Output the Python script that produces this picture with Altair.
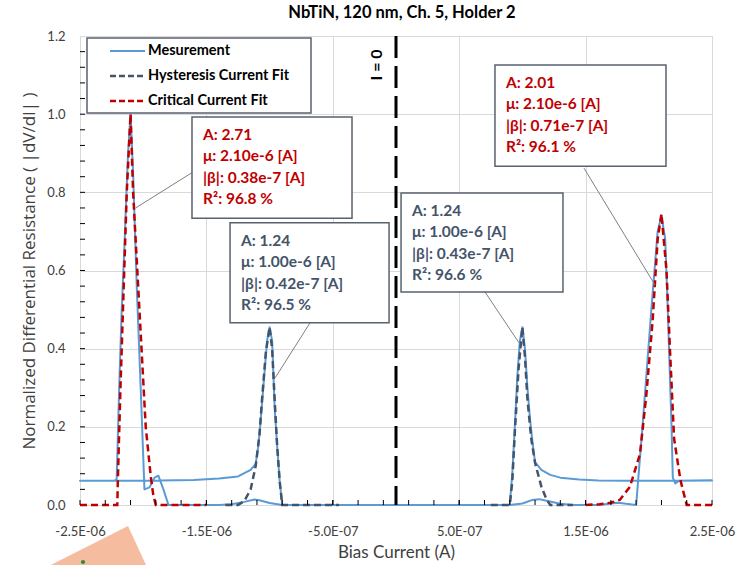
import altair as alt
import pandas as pd

# ---------------- data (x in µA, y normalized) ----------------
meas_x = [0.0, 0.9, 1.0, 1.08, 1.13, 1.2, 1.3, 1.4, 1.6, 1.7, 1.76, 1.82, 1.9,
          1.95, 2.02, 2.07, 2.1, 2.13, 2.15, 2.18, 2.19, 2.21, 2.24, 2.5,
          2.2, 1.8, 1.6, 1.45, 1.3, 1.22, 1.15, 1.1, 1.08, 1.06, 1.04, 1.02, 1.0,
          0.98, 0.96, 0.94, 0.92, 0.9, 0.5, 0.0, -0.5, -0.9, -1.0, -1.08, -1.12,
          -1.2, -1.3, -1.4, -1.8, -1.84, -1.88, -1.91, -1.95, -1.99, -2.02, -2.05,
          -2.08, -2.1, -2.12, -2.15, -2.17, -2.19, -2.21, -2.23, -2.5,
          -2.0, -1.6, -1.4, -1.25, -1.15, -1.11, -1.09, -1.075, -1.05, -1.02, -1.0,
          -0.98, -0.96, -0.94, -0.92, -0.9, 0.0]
meas_y = [0.0, 0.0, 0.004, 0.013, 0.015, 0.01, 0.003, 0.0, 0.0, 0.004, 0.006, 0.003, 0.0,
          0.2, 0.5, 0.7, 0.74, 0.68, 0.5, 0.2, 0.07, 0.055, 0.062, 0.063,
          0.062, 0.062, 0.063, 0.065, 0.07, 0.077, 0.09, 0.11, 0.16, 0.22, 0.3, 0.4, 0.455,
          0.42, 0.33, 0.2, 0.08, 0.0, 0.0, 0.0, 0.0, 0.0, 0.005, 0.012, 0.014,
          0.008, 0.002, 0.0, 0.0, 0.04, 0.075, 0.07, 0.045, 0.04, 0.3, 0.55,
          0.85, 1.0, 0.9, 0.65, 0.5, 0.3, 0.065, 0.062, 0.062,
          0.062, 0.064, 0.068, 0.073, 0.09, 0.105, 0.15, 0.2, 0.3, 0.42, 0.455,
          0.42, 0.25, 0.15, 0.06, 0.0, 0.0]

hyst_left_x = [-1.35, -1.25, -1.2, -1.15, -1.11, -1.08, -1.06, -1.03, -1.0, -0.98, -0.96, -0.94, -0.92, -0.9, -0.45]
hyst_left_y = [0.0, 0.0, 0.01, 0.04, 0.1, 0.18, 0.27, 0.39, 0.455, 0.4, 0.27, 0.15, 0.06, 0.0, 0.0]
hyst_right_x = [0.75, 0.9, 0.92, 0.94, 0.97, 1.0, 1.02, 1.04, 1.07, 1.1, 1.15, 1.19, 1.22, 1.4]
hyst_right_y = [0.0, 0.0, 0.06, 0.185, 0.35, 0.455, 0.38, 0.27, 0.17, 0.108, 0.047, 0.015, 0.0, 0.0]

crit_left_x = [-2.5, -2.205, -2.2, -2.18, -2.16, -2.13, -2.1, -2.08, -2.03, -1.98, -1.94, -1.92, -1.9, -1.5]
crit_left_y = [0.0, 0.0, 0.07, 0.3, 0.5, 0.8, 1.0, 0.8, 0.5, 0.2, 0.072, 0.025, 0.0, 0.0]
crit_right_x = [1.5, 1.61, 1.7, 1.77, 1.85, 1.93, 1.98, 2.03, 2.07, 2.1, 2.14, 2.17, 2.2, 2.25, 2.3, 2.5]
crit_right_y = [0.0, 0.002, 0.006, 0.013, 0.046, 0.13, 0.28, 0.47, 0.68, 0.745, 0.6, 0.38, 0.17, 0.064, 0.0, 0.0]

x_tick_values = [-2.5, -1.5, -0.5, 0.5, 1.5, 2.5]
x_tick_labels = ["-2.5E-06", "-1.5E-06", "-5.0E-07", "5.0E-07", "1.5E-06", "2.5E-06"]
y_tick_values = [0.0, 0.2, 0.4, 0.6, 0.8, 1.0, 1.2]
x_minor = [-2.3, -2.1, -1.9, -1.7, -1.5, -1.3, -1.1, -0.9, -0.7, -0.5, -0.3, -0.1,
           0.1, 0.3, 0.5, 0.7, 0.9, 1.1, 1.3, 1.5, 1.7, 1.9, 2.1, 2.3]
y_minor = [0.04, 0.08, 0.12, 0.16, 0.2, 0.24, 0.28, 0.32, 0.36, 0.4, 0.44, 0.48, 0.52, 0.56,
           0.6, 0.64, 0.68, 0.72, 0.76, 0.8, 0.84, 0.88, 0.92, 0.96, 1.0, 1.04, 1.08, 1.12, 1.16]

legend_labels = ["Mesurement", "Hysteresis Current Fit", "Critical Current Fit"]

ann_lines = [
    ["A: 2.71", "μ: 2.10e-6 [A]", "|β|: 0.38e-7 [A]", "R²: 96.8 %"],
    ["A: 1.24", "μ: 1.00e-6 [A]", "|β|: 0.42e-7 [A]", "R²: 96.5 %"],
    ["A: 1.24", "μ: 1.00e-6 [A]", "|β|: 0.43e-7 [A]", "R²: 96.6 %"],
    ["A: 2.01", "μ: 2.10e-6 [A]", "|β|: 0.71e-7 [A]", "R²: 96.1 %"],
]
ann_colors = ["#C00000", "#44546A", "#44546A", "#C00000"]
# annotation box placement (µA / normalized units)
box_x1 = [-1.614, -1.313, 0.040, 0.783]
box_x2 = [-0.348, -0.055, 1.321, 2.136]
box_ytop = [0.993, 0.722, 0.798, 1.126]
box_ybot = [0.734, 0.466, 0.545, 0.867]
lead_x1 = [-1.606, -0.680, 0.704, 1.487]
lead_y1 = [0.852, 0.466, 0.545, 0.862]
lead_x2 = [-2.06, -0.957, 0.973, 2.049]
lead_y2 = [0.76, 0.325, 0.415, 0.563]

# ---------------- styling ----------------
W, H = 632, 469
FONT = "Lato"
BLUE, SLATE, RED = "#5B9BD5", "#44546A", "#C00000"
U = 1e-6

xs = alt.Scale(domain=[-2.5e-6, 2.5e-6], nice=False, zero=False)
ys = alt.Scale(domain=[0, 1.2], nice=False)

label_expr = "[" + ",".join(f"'{s}'" for s in x_tick_labels) + "][round((datum.value + 2.5e-6) / 1e-6)]"
xaxis = alt.Axis(values=[v * U for v in x_tick_values], labelExpr=label_expr, grid=True,
                 gridColor="#D9D9D9", ticks=False, tickSize=0, domain=False, labelFlush=False,
                 labelPadding=20, titlePadding=6, labelFont=FONT, labelFontSize=13,
                 labelColor="#404040", titleFont=FONT, titleFontSize=17,
                 titleFontWeight="normal", titleColor="#404040")
yaxis = alt.Axis(values=y_tick_values, format=".1f", grid=True, gridColor="#D9D9D9",
                 ticks=False, tickSize=0, domain=False, labelPadding=15, titlePadding=8,
                 labelFlush=False, labelFont=FONT, labelFontSize=13, labelColor="#404040",
                 titleFont="Open Sans", titleFontSize=17, titleFontWeight="normal",
                 titleColor="#404040")

XT = "Bias Current (A)"
YT = "Normalized Differential Resistance ( |dV/dI| )"


def X(f):
    return alt.X(f, type="quantitative", scale=xs, axis=xaxis, title=XT)


def Y(f):
    return alt.Y(f, type="quantitative", scale=ys, axis=yaxis, title=YT)


meas_df = pd.DataFrame({"x": [v * U for v in meas_x], "y": meas_y, "i": range(len(meas_x))})
hyst_df = pd.DataFrame({"x": [v * U for v in hyst_left_x + hyst_right_x],
                        "y": hyst_left_y + hyst_right_y,
                        "seg": ["L"] * len(hyst_left_x) + ["R"] * len(hyst_right_x)})
hyst_df["i"] = range(len(hyst_df))
crit_df = pd.DataFrame({"x": [v * U for v in crit_left_x + crit_right_x],
                        "y": crit_left_y + crit_right_y,
                        "seg": ["L"] * len(crit_left_x) + ["R"] * len(crit_right_x)})
crit_df["i"] = range(len(crit_df))

layers = []

meas = alt.Chart(meas_df).mark_line(color=BLUE, strokeWidth=2, strokeJoin="round").encode(
    x=X("x"), y=Y("y"), order="i:Q")
hyst = alt.Chart(hyst_df).mark_line(color=SLATE, strokeWidth=2.5, strokeDash=[7, 4]).encode(
    x=X("x"), y=Y("y"), detail="seg:N", order="i:Q")
crit = alt.Chart(crit_df).mark_line(color=RED, strokeWidth=2.5, strokeDash=[7, 4]).encode(
    x=X("x"), y=Y("y"), detail="seg:N", order="i:Q")
layers += [meas, hyst, crit]

# minor ticks (inward)
xt_df = pd.DataFrame({"x": [v * U for v in x_tick_values + x_minor]})
yt_df = pd.DataFrame({"y": y_minor})
layers.append(alt.Chart(xt_df).mark_rule(color="black", strokeWidth=1).encode(
    x=X("x"), y=alt.value(H), y2=alt.value(H - 5)))
layers.append(alt.Chart(yt_df).mark_rule(color="black", strokeWidth=1).encode(
    y=Y("y"), x=alt.value(0), x2=alt.value(5)))

# I = 0 line and label
zero_df = pd.DataFrame({"x": [0.0]})
layers.append(alt.Chart(zero_df).mark_rule(color="black", strokeWidth=3, strokeDash=[22, 8]).encode(
    x=X("x")))
izero_df = pd.DataFrame({"x": [-0.15 * U], "y": [1.126], "t": ["I = 0"]})
layers.append(alt.Chart(izero_df).mark_text(angle=270, font=FONT, fontSize=16, fontWeight="bold",
                                            color="black", align="center", baseline="middle").encode(
    x=X("x"), y=Y("y"), text="t:N"))

# annotation leader lines, boxes, texts
lead_df = pd.DataFrame({"x": [v * U for v in lead_x1], "y": lead_y1,
                        "x2": [v * U for v in lead_x2], "y2": lead_y2})
layers.append(alt.Chart(lead_df).mark_rule(color="#7F7F7F", strokeWidth=1).encode(
    x=X("x"), y=Y("y"), x2="x2", y2="y2"))
box_df = pd.DataFrame({"x": [v * U for v in box_x1], "x2": [v * U for v in box_x2],
                       "y": box_ytop, "y2": box_ybot})
layers.append(alt.Chart(box_df).mark_rect(fill="white", stroke="#596270", strokeWidth=1.5).encode(
    x=X("x"), x2="x2", y=Y("y"), y2="y2"))
line_dy = [18, 39, 61, 82]
for li in range(4):
    tdf = pd.DataFrame({"x": [v * U for v in box_x1], "y": box_ytop,
                        "t": [lines[li] for lines in ann_lines], "c": ann_colors})
    layers.append(alt.Chart(tdf).mark_text(align="left", baseline="middle", dx=11, dy=line_dy[li],
                                           font=FONT, fontSize=15.5, fontWeight="bold").encode(
        x=X("x"), y=Y("y"), text="t:N", color=alt.Color("c:N", scale=None)))

# legend (custom)
one = pd.DataFrame({"a": [0]})
layers.append(alt.Chart(one).mark_rect(fill="white", stroke="#596270", strokeWidth=1.5).encode(
    x=alt.value(7), x2=alt.value(231), y=alt.value(2), y2=alt.value(77)))
leg_colors = [BLUE, SLATE, RED]
leg_dash = [[1, 0], [6, 3], [6, 3]]
leg_y = [15, 40, 65]
for k in range(3):
    layers.append(alt.Chart(one).mark_rule(color=leg_colors[k], strokeWidth=2.5 if k else 2,
                                           strokeDash=leg_dash[k]).encode(
        x=alt.value(30), x2=alt.value(65), y=alt.value(leg_y[k])))
    layers.append(alt.Chart(one).mark_text(text=legend_labels[k], align="left", baseline="middle",
                                           font=FONT, fontSize=14.5, fontWeight="bold",
                                           color="black").encode(
        x=alt.value(68), y=alt.value(leg_y[k])))

# decorative sticker in the bottom-left corner of the screenshot
layers.append(alt.Chart(one).mark_point(shape="M0.36,-0.44 L-1.7,0.6 L0.84,0.6 Z", size=10000,
                                        filled=True, fill="#F6BC9F", opacity=1, strokeWidth=0).encode(
    x=alt.value(30), y=alt.value(512)))
layers.append(alt.Chart(one).mark_point(shape="circle", size=18, filled=True, fill="#2E8B30",
                                        opacity=1).encode(
    x=alt.value(3), y=alt.value(526)))

chart = alt.layer(*layers).properties(
    width=W, height=H,
    autosize=alt.AutoSizeParams(type="none"),
    padding={"left": 80, "top": 36, "right": 24, "bottom": 60},
    title=alt.TitleParams("NbTiN, 120 nm, Ch. 5, Holder 2", font=FONT, fontSize=16.5,
                          fontWeight="bold", color="black", anchor="middle", offset=9, dx=6),
).configure_view(stroke="black", strokeWidth=1.2).configure(background="white")

chart.save("out.html", embed_options={"renderer": "svg", "actions": False})
